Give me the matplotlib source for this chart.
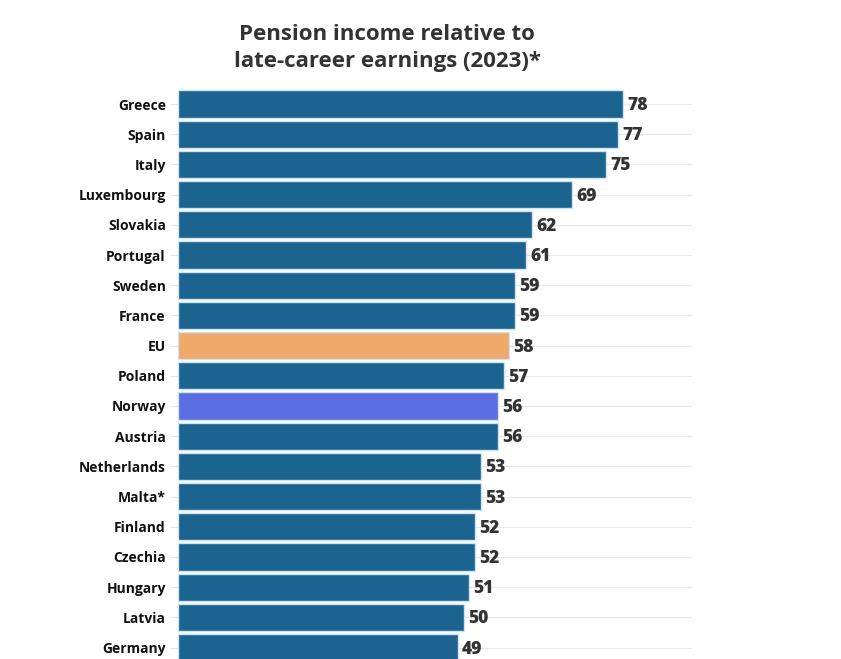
import matplotlib
matplotlib.use("Agg")
import matplotlib.pyplot as plt

countries = ["Greece", "Spain", "Italy", "Luxembourg", "Slovakia", "Portugal", "Sweden",
             "France", "EU", "Poland", "Norway", "Austria", "Netherlands", "Malta*",
             "Finland", "Czechia", "Hungary", "Latvia", "Germany"]
values = [78, 77, 75, 69, 62, 61, 59, 59, 58, 57, 56, 56, 53, 53, 52, 52, 51, 50, 49]
highlight = {"EU": "#efa96a", "Norway": "#5b6ee1"}
base_color = "#1b6490"

W, H = 841, 659
fig = plt.figure(figsize=(W / 100, H / 100), dpi=100)
left, right, top, bottom = 170, 692, 88, 659
ax = fig.add_axes([left / W, 1 - bottom / H, (right - left) / W, (bottom - top) / H])

ys = list(range(len(countries)))
colors = [highlight.get(c, base_color) for c in countries]
ax.barh(ys, values, height=0.9, color=colors, edgecolor="#cfe3f1", linewidth=1.0, zorder=2)

for y, v in zip(ys, values):
    ax.text(v + 0.75, y + 0.05, f"{v}", va="center", ha="left", fontsize=12.5, fontweight="heavy",
            color="#333333", family="Open Sans", zorder=3)

ax.set_xlim(-1.4, 90)
ax.set_ylim((bottom - 104) / 30.2, (top - 104) / 30.2)
ax.set_yticks(ys)
ax.set_yticklabels(countries, fontsize=10, fontweight="bold", family="Open Sans", color="#111111")
ax.tick_params(axis="y", length=0, pad=3)
ax.set_xticks([])
ax.grid(axis="y", color="#e8e8e8", linewidth=0.8, zorder=0)
for s in ax.spines.values():
    s.set_visible(False)

fig.text(387 / W, 1 - 34 / H, "Pension income relative to",
         ha="center", va="center", fontsize=16, fontweight="bold", family="Open Sans",
         color="#333333")
fig.text(387 / W, 1 - 61 / H, "late-career earnings (2023)*",
         ha="center", va="center", fontsize=16, fontweight="bold", family="Open Sans",
         color="#333333")

fig.savefig("out.png", dpi=100)
